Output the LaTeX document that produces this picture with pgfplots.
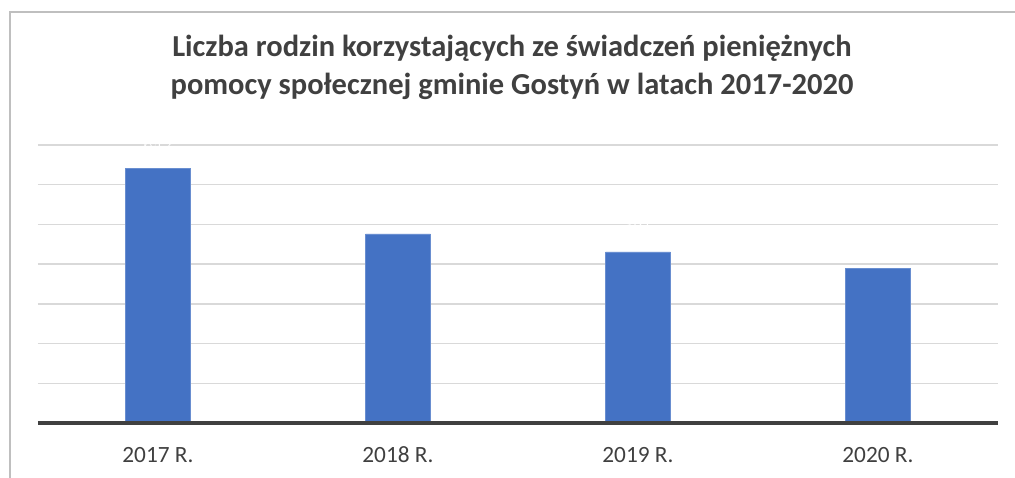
\documentclass[border=0pt]{standalone}
\usepackage{pgfplots}
\pgfplotsset{compat=1.18}
\usepackage{fontspec}
\setmainfont{Carlito}
\definecolor{barblue}{HTML}{4472C4}
\definecolor{txtgray}{HTML}{404040}
\definecolor{ticktxt}{HTML}{404040}
\definecolor{gridgray}{HTML}{D9D9D9}
\definecolor{framegray}{HTML}{BFBFBF}
\begin{document}
\begin{tikzpicture}[x=1pt,y=1pt]
\useasboundingbox (0,0) rectangle (1015,477);
\begin{scope}
\clip (0,0) rectangle (1015,477);
\draw[framegray, line width=1.3pt] (10,-10) -- (10,465) -- (1030,465);
\end{scope}
\node[align=center, font=\fontsize{30.5}{38}\selectfont\bfseries, text=txtgray] at (512,410)
  {Liczba rodzin korzystających ze świadczeń pieniężnych\\pomocy społecznej gminie Gostyń w latach 2017-2020};
\begin{axis}[
  at={(38pt,54pt)}, anchor=south west,
  width=960pt, height=278pt, scale only axis,
  xmin=-0.5, xmax=3.5, ymin=0, ymax=700,
  axis line style={draw=none},
  major tick style={draw=none},
  ytick={100,200,...,700},
  ymajorgrids, grid style={gridgray, line width=1.3pt},
  xtick={0,1,2,3},
  xticklabels={},
  yticklabels={},
  ybar, bar width=0.27,
  clip=false,
]
\addplot[fill=barblue, draw=barblue!80!white, line width=0.6pt,
  nodes near coords, nodes near coords style={white, anchor=base, yshift=16pt, font=\fontsize{20}{22}\selectfont}]
  coordinates {(0,642) (1,476) (2,431) (3,390)};
\draw[txtgray, line width=3.5pt] (axis cs:-0.5,0) -- (axis cs:3.5,0);
\foreach \i/\l in {0/2017 R.,1/2018 R.,2/2019 R.,3/2020 R.}{
  \edef\tmp{\noexpand\node[text=ticktxt, font=\noexpand\fontsize{23.3}{26}\noexpand\selectfont, anchor=base] at (axis cs:\i,0) [yshift=-39pt] {\l};}\tmp
}
\end{axis}
\end{tikzpicture}
\end{document}
